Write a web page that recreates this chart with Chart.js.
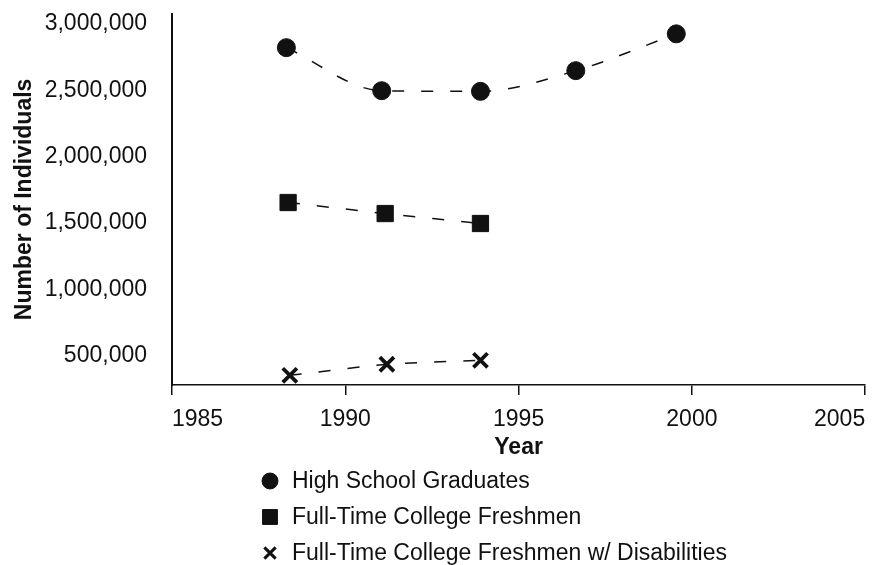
<!DOCTYPE html>
<html>
<head>
<meta charset="utf-8">
<script src="https://cdn.jsdelivr.net/npm/chart.js@4.4.1/dist/chart.umd.min.js"></script>
<style>
  html, body { margin: 0; padding: 0; background: #fff; }
  canvas { display: block; }
</style>
</head>
<body>
<canvas id="chart" width="879" height="565"></canvas>
<script>
// values
const seriesNames = [
  'High School Graduates',
  'Full-Time College Freshmen',
  'Full-Time College Freshmen w/ Disabilities'
];
const gradYears = [1988.3, 1991.05, 1993.9, 1996.65, 1999.55];
const gradValues = [2820000, 2496000, 2491000, 2647000, 2924000];
const freshYears = [1988.35, 1991.15, 1993.9];
const freshValues = [1654000, 1571000, 1496000];
const disabYears = [1988.4, 1991.2, 1993.9];
const disabValues = [353000, 436000, 466000];
const xTicks = [1985, 1990, 1995, 2000, 2005];
const yTicks = [500000, 1000000, 1500000, 2000000, 2500000, 3000000];

const FONT = '"Liberation Sans", Arial, Helvetica, sans-serif';
const INK = '#111';

const pts = (xs, ys) => xs.map((x, i) => ({ x, y: ys[i] }));

// legend drawn as a left-aligned list under the axis title
const listLegend = {
  id: 'listLegend',
  afterDraw(chart) {
    const ctx = chart.ctx;
    ctx.save();
    ctx.font = '23px ' + FONT;
    ctx.textBaseline = 'middle';
    chart.data.datasets.forEach((ds, i) => {
      const y = 481 + i * 36;
      ctx.fillStyle = INK;
      ctx.strokeStyle = INK;
      ctx.lineWidth = ds.legendBorder;
      Chart.helpers.drawPoint(ctx, {
        pointStyle: ds.pointStyle, radius: ds.legendRadius,
        rotation: 0, borderWidth: ds.legendBorder
      }, 270, y);
      ctx.fillStyle = INK;
      ctx.fillText(ds.label, 292, y + 1);
    });
    ctx.restore();
  }
};

const lineBase = {
  borderColor: INK,
  borderWidth: 1.5,
  borderDash: [12, 17],
  pointBackgroundColor: INK,
  pointBorderColor: INK,
  showLine: true,
  fill: false
};

new Chart(document.getElementById('chart'), {
  type: 'line',
  data: {
    datasets: [
      Object.assign({}, lineBase, {
        label: seriesNames[0], data: pts(gradYears, gradValues),
        pointStyle: 'circle', pointRadius: 9, pointBorderWidth: 1,
        cubicInterpolationMode: 'monotone',
        legendRadius: 8, legendBorder: 1
      }),
      Object.assign({}, lineBase, {
        label: seriesNames[1], data: pts(freshYears, freshValues),
        pointStyle: 'rect', pointRadius: 11.5, pointBorderWidth: 1, tension: 0.2,
        legendRadius: 10.5, legendBorder: 1
      }),
      Object.assign({}, lineBase, {
        label: seriesNames[2], data: pts(disabYears, disabValues),
        pointStyle: 'crossRot', pointRadius: 10, pointBorderWidth: 3.8, tension: 0.2,
        legendRadius: 8, legendBorder: 3
      })
    ]
  },
  options: {
    responsive: false,
    animation: false,
    layout: { padding: { top: 3, right: 13, bottom: 104, left: 0 } },
    plugins: { legend: { display: false }, tooltip: { enabled: false } },
    scales: {
      x: {
        type: 'linear',
        min: 1985, max: 2005,
        afterBuildTicks: s => { s.ticks = xTicks.map(v => ({ value: v })); },
        afterFit: s => { s.height = 76; s.paddingLeft = 0; s.paddingRight = 0; },
        grid: { drawOnChartArea: false, drawTicks: true, tickLength: 10, color: INK, lineWidth: 1.5 },
        border: { display: true, color: INK, width: 1.5 },
        ticks: {
          color: INK, align: 'inner', padding: 11,
          font: { family: FONT, size: 23 },
          callback: v => String(v)
        },
        title: {
          display: true, text: 'Year', color: INK,
          font: { family: FONT, size: 23, weight: 'bold' },
          padding: { top: 0, bottom: 0 }
        }
      },
      y: {
        type: 'linear',
        min: 280000, max: 3075000,
        afterBuildTicks: s => { s.ticks = yTicks.map(v => ({ value: v })); },
        afterFit: s => { s.width = 172; s.paddingTop = 0; s.paddingBottom = 0; },
        grid: { display: false, drawTicks: false },
        border: { display: true, color: INK, width: 2 },
        ticks: {
          color: INK, padding: 25,
          font: { family: FONT, size: 23 },
          callback: v => v.toLocaleString('en-US')
        },
        title: {
          display: true, text: 'Number of Individuals', color: INK,
          font: { family: FONT, size: 23, weight: 'bold' },
          padding: { top: 11, bottom: 0 }
        }
      }
    }
  },
  plugins: [listLegend]
});
</script>
</body>
</html>
